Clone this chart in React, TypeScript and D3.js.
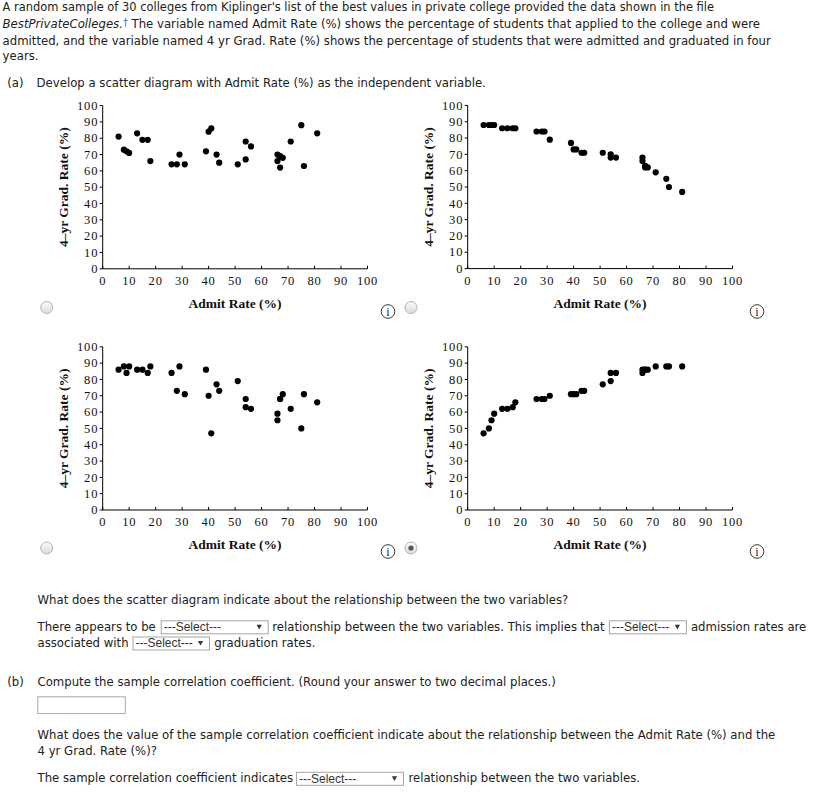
import React from "react";
import * as d3 from "d3";

// ---- data ----
const admitRate = [6, 8, 9, 10, 13, 15, 17, 18, 26, 28, 29, 31, 39, 40, 41, 43, 44, 51, 54, 54, 56, 66, 66, 67, 67, 68, 71, 75, 76, 81];
const gradRateA = [81, 73, 72, 71, 83, 79, 79, 66, 64, 64, 70, 64, 72, 84, 86, 70, 65, 64, 78, 67, 75, 70, 66, 69, 62, 68, 78, 88, 63, 83];
const gradRateB = [88, 88, 88, 88, 86, 86, 86, 86, 84, 84, 84, 79, 77, 73, 73, 71, 71, 71, 70, 68, 68, 68, 66, 63, 62, 62, 59, 55, 50, 47];
const gradRateC = [86, 88, 84, 88, 86, 86, 84, 88, 84, 73, 88, 71, 86, 70, 47, 77, 73, 79, 68, 63, 62, 59, 55, 68, 68, 71, 62, 50, 71, 66];
const gradRateD = [47, 50, 55, 59, 62, 62, 63, 66, 68, 68, 68, 70, 71, 71, 71, 73, 73, 77, 79, 84, 84, 84, 86, 86, 86, 86, 88, 88, 88, 88];
const axisTicks = [0, 10, 20, 30, 40, 50, 60, 70, 80, 90, 100];
const xTitle = "Admit Rate (%)";
const yTitle = "4\u2013yr Grad. Rate (%)";

const PW = 264.8;
const PH = 163.2;
const SX = 0.9;
const TXT = "#222";

function T({ x, y, children, ...rest }: any) {
  return (
    <text
      transform={`translate(${x},${y}) scale(${SX},1)`}
      fontFamily="'DejaVu Sans', Verdana, sans-serif"
      fontSize={13}
      fill={TXT}
      {...rest}
    >
      {children}
    </text>
  );
}

function Scatter({ left, top, values }: { left: number; top: number; values: number[] }) {
  const x = d3.scaleLinear().domain([0, 100]).range([left, left + PW]);
  const y = d3.scaleLinear().domain([0, 100]).range([top + PH, top]);
  const pts = admitRate.map((a, i) => [a, values[i]]);
  const bottom = y(0);
  return (
    <g>
      <line x1={x(0)} x2={x(100)} y1={bottom} y2={bottom} stroke="#000" strokeWidth={1} />
      <line x1={x(0)} x2={x(0)} y1={y(0)} y2={y(100)} stroke="#000" strokeWidth={1} />
      {axisTicks.map((t) => (
        <g key={"x" + t}>
          <line x1={x(t)} x2={x(t)} y1={bottom} y2={bottom - 3} stroke="#000" />
          <text
            x={x(t)}
            y={bottom + 16.3}
            textAnchor="middle"
            fontFamily="'Liberation Serif', serif"
            fontSize={12.5}
            letterSpacing={0.8}
            fill="#111"
          >
            {t}
          </text>
        </g>
      ))}
      {axisTicks.map((t) => (
        <g key={"y" + t}>
          <line x1={x(0)} x2={x(0) - 3} y1={y(t)} y2={y(t)} stroke="#000" />
          <text
            x={x(0) - 4.5}
            y={y(t) + 4.2}
            textAnchor="end"
            fontFamily="'Liberation Serif', serif"
            fontSize={12.5}
            letterSpacing={0.8}
            fill="#111"
          >
            {t}
          </text>
        </g>
      ))}
      {pts.map(([a, g], i) => (
        <circle key={i} cx={x(a)} cy={y(g)} r={3.1} fill="#000" />
      ))}
      <text
        x={(x(0) + x(100)) / 2}
        y={bottom + 39}
        textAnchor="middle"
        fontFamily="'Liberation Serif', serif"
        fontWeight="bold"
        fontSize={13.5}
        fill="#111"
      >
        {xTitle}
      </text>
      <text
        transform={`translate(${x(0) - 35},${(y(0) + y(100)) / 2}) rotate(-90)`}
        textAnchor="middle"
        fontFamily="'Liberation Serif', serif"
        fontWeight="bold"
        fontSize={13.5}
        fill="#111"
      >
        {yTitle}
      </text>
    </g>
  );
}

function Radio({ cx, cy, checked }: { cx: number; cy: number; checked?: boolean }) {
  return (
    <g>
      <circle cx={cx} cy={cy} r={6} fill="url(#radioGrad)" stroke="#b4b4b4" strokeWidth={1} />
      {checked && <circle cx={cx} cy={cy} r={2.6} fill="#555" />}
    </g>
  );
}

function Info({ cx, cy }: { cx: number; cy: number }) {
  return (
    <g>
      <circle cx={cx} cy={cy} r={6.8} fill="#fff" stroke="#333" strokeWidth={1} />
      <text x={cx} y={cy + 4} textAnchor="middle" fontFamily="'Liberation Serif', serif" fontSize={12} fill="#222">
        i
      </text>
    </g>
  );
}

function Select({ x, y, w }: { x: number; y: number; w: number }) {
  const h = 13;
  const ax = x + w - 8.5;
  const ay = y + h / 2;
  return (
    <g>
      <rect x={x + 0.5} y={y + 0.5} width={w} height={h} fill="#fff" stroke="#a6a6a6" strokeWidth={1} />
      <text x={x + 3} y={y + 10.8} fontFamily="'Liberation Sans', Arial, sans-serif" fontSize={12} fill="#333">
        ---Select---
      </text>
      <path d={`M${ax - 2.6},${ay - 2} L${ax + 2.6},${ay - 2} L${ax},${ay + 2.6} Z`} fill="#333" />
    </g>
  );
}

export default function App() {
  return (
    <svg
      width={819}
      height={801}
      viewBox="0 0 819 801"
      style={{ position: "absolute", left: 0, top: 0, background: "#fff" }}
    >
      <defs>
        <linearGradient id="radioGrad" x1="0" y1="0" x2="0" y2="1">
          <stop offset="0" stopColor="#fbfbfb" />
          <stop offset="1" stopColor="#dcdcdc" />
        </linearGradient>
      </defs>
      <rect x={0} y={0} width={819} height={801} fill="#fff" />

      <T x={2.6} y={11} textLength={790.5} lengthAdjust="spacingAndGlyphs">
        A random sample of 30 colleges from Kiplinger's list of the best values in private college provided the data shown in the file
      </T>
      <T x={2.6} y={28.3}>
        <tspan fontStyle="italic">BestPrivateColleges.</tspan>
        <tspan fill="#3a6fd0" fontSize={11} dy={-2}>
          {"\u2020"}
        </tspan>
        <tspan dy={2}>
          {" The variable named Admit Rate (%) shows the percentage of students that applied to the college and were"}
        </tspan>
      </T>
      <T x={2.6} y={44.7}>
        admitted, and the variable named 4 yr Grad. Rate (%) shows the percentage of students that were admitted and graduated in four
      </T>
      <T x={2.6} y={60.3}>
        years.
      </T>
      <T x={7.3} y={86.7}>
        (a)
      </T>
      <T x={36.6} y={86.7}>
        Develop a scatter diagram with Admit Rate (%) as the independent variable.
      </T>

      <Scatter left={102.7} top={105.6} values={gradRateA} />
      <Scatter left={467.7} top={105.4} values={gradRateB} />
      <Scatter left={102.7} top={346.8} values={gradRateC} />
      <Scatter left={467.7} top={346.8} values={gradRateD} />

      <Radio cx={46.7} cy={307.5} />
      <Radio cx={411} cy={307.5} />
      <Radio cx={46.7} cy={548} />
      <Radio cx={411} cy={548} checked />
      <Info cx={388} cy={311.5} />
      <Info cx={757} cy={311.5} />
      <Info cx={388} cy={551.5} />
      <Info cx={757} cy={551.5} />

      <T x={37.5} y={604}>
        What does the scatter diagram indicate about the relationship between the two variables?
      </T>
      <T x={37.5} y={630.7}>
        There appears to be
      </T>
      <Select x={160.7} y={620.3} w={107} />
      <T x={272.3} y={630.7}>
        relationship between the two variables. This implies that
      </T>
      <Select x={608.9} y={620.3} w={77} />
      <T x={690.9} y={630.7}>
        admission rates are
      </T>
      <T x={37.5} y={646.7}>
        associated with
      </T>
      <Select x={132.5} y={636.5} w={76.5} />
      <T x={214.3} y={646.7}>
        graduation rates.
      </T>

      <T x={7.3} y={686}>
        (b)
      </T>
      <T x={37.5} y={686}>
        Compute the sample correlation coefficient. (Round your answer to two decimal places.)
      </T>
      <rect x={37.8} y={696.8} width={87.5} height={16.8} fill="#fff" stroke="#a9a9a9" strokeWidth={1} />

      <T x={37.5} y={739}>
        What does the value of the sample correlation coefficient indicate about the relationship between the Admit Rate (%) and the
      </T>
      <T x={37.5} y={754.5}>
        4 yr Grad. Rate (%)?
      </T>
      <T x={37.5} y={781.5}>
        The sample correlation coefficient indicates
      </T>
      <Select x={296} y={771.8} w={107} />
      <T x={408.4} y={781.5}>
        relationship between the two variables.
      </T>
    </svg>
  );
}
